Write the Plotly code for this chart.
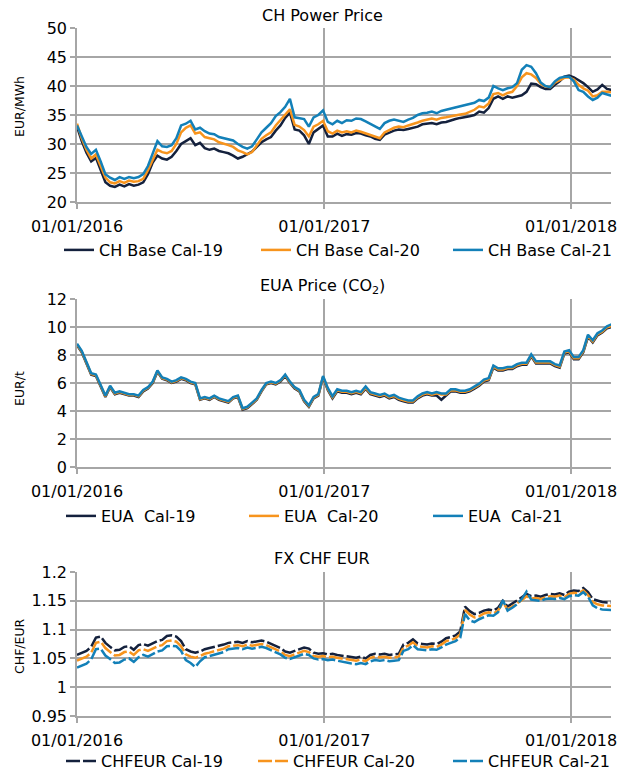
import pandas as pd
import plotly.graph_objects as go

# ---------------- data (weekly readings) ----------------
dates = pd.date_range("2016-01-01", periods=114, freq="7D")

x_ticks = ["2016-01-01", "2017-01-01", "2018-01-01"]

power_names = ["CH Base Cal-19", "CH Base Cal-20", "CH Base Cal-21"]
power_cal19 = [33.0, 30.5, 28.5, 27.0, 27.6, 25.6, 23.4, 22.8, 22.6, 23.0,
               22.7, 23.1, 22.8, 23.0, 23.4, 24.8, 26.8, 28.0, 27.5, 27.3,
               27.8, 28.8, 30.0, 30.5, 31.0, 29.8, 30.2, 29.3, 29.0, 29.2,
               28.8, 28.6, 28.4, 28.0, 27.5, 27.8, 28.2, 28.7, 29.5, 30.3,
               30.8, 31.2, 32.3, 33.2, 34.5, 35.4, 32.5, 32.3, 31.5, 30.0,
               32.0, 32.6, 33.2, 31.3, 31.3, 31.8, 31.4, 31.7, 31.6, 31.9,
               31.8, 31.5, 31.3, 30.9, 30.7, 31.6, 32.0, 32.3, 32.5, 32.4,
               32.6, 32.8, 33.0, 33.4, 33.5, 33.6, 33.4, 33.7, 33.8, 34.1,
               34.3, 34.5, 34.6, 34.8, 35.0, 35.6, 35.4, 36.2, 37.8, 38.2,
               37.8, 38.2, 38.0, 38.2, 38.4, 39.0, 40.4, 40.3, 39.8, 39.5,
               39.5, 40.2, 40.8, 41.6, 41.8, 41.5, 41.0, 40.5, 39.8, 39.0,
               39.4, 40.2, 39.5, 39.3]
power_cal20 = [33.5, 31.0, 29.0, 27.5, 28.2, 26.2, 24.2, 23.4, 23.2, 23.6,
               23.3, 23.7, 23.5, 23.6, 24.0, 25.5, 27.4, 29.0, 28.6, 28.4,
               28.8, 30.0, 32.0, 32.8, 33.2, 31.8, 32.0, 31.2, 31.0, 30.8,
               30.3, 30.1, 29.8, 29.5, 28.9, 28.6, 28.2, 28.6, 29.8, 30.9,
               31.5, 32.0, 33.2, 34.2, 35.2, 36.0, 33.3, 33.0, 32.4, 31.3,
               33.0, 33.4, 34.0, 32.2, 31.8, 32.3, 32.0, 32.2, 32.0, 32.3,
               32.1, 31.8, 31.5, 31.2, 31.0, 32.0, 32.4, 32.8, 33.0, 32.9,
               33.2, 33.4, 33.7, 34.0, 34.2, 34.4, 34.2, 34.5, 34.6, 34.8,
               35.0, 35.1, 35.2, 35.5, 35.9, 36.5, 36.3, 37.0, 38.6, 38.8,
               38.4, 38.8, 39.0, 40.0, 41.5, 42.2, 42.0, 41.4, 40.4, 39.9,
               39.8, 40.6, 41.0, 41.4, 41.5, 41.1, 40.2, 39.6, 39.2, 38.2,
               38.4, 39.0, 39.0, 38.9]
power_cal21 = [33.2, 31.3, 29.5, 28.3, 29.0, 27.0, 24.8, 24.2, 23.8, 24.3,
               24.0, 24.3, 24.1, 24.3, 24.8, 26.2, 28.5, 30.5, 29.6, 29.5,
               29.8, 31.0, 33.2, 33.5, 34.0, 32.5, 32.8, 32.2, 31.8, 31.7,
               31.2, 31.0, 30.9, 30.6, 30.0, 29.5, 29.2, 29.6, 30.8, 32.0,
               32.8, 33.6, 34.8, 35.5, 36.4, 37.8, 34.6, 34.5, 34.3, 33.0,
               34.6, 35.0, 35.8, 33.8, 33.4, 34.0, 33.6, 34.1, 34.0, 34.4,
               34.3, 33.9, 33.5, 33.0, 32.6, 33.6, 34.0, 34.2, 34.0, 33.8,
               34.2, 34.5, 35.0, 35.3, 35.4, 35.6, 35.3, 35.7, 35.9, 36.1,
               36.3, 36.5, 36.6, 36.9, 37.1, 37.6, 37.4, 38.0, 40.0, 39.6,
               39.3, 39.6, 39.8, 40.5, 42.8, 43.6, 43.3, 42.2, 40.6, 40.0,
               39.8, 40.8, 41.4, 41.6, 41.6, 40.8, 39.3, 39.0, 38.2, 37.6,
               38.0, 38.8, 38.5, 38.3]

eua_names = ["EUA  Cal-19", "EUA  Cal-20", "EUA  Cal-21"]
eua_cal19 = [8.7, 8.2, 7.4, 6.6, 6.5, 5.8, 5.0, 5.7, 5.2, 5.3,
             5.2, 5.1, 5.1, 5.0, 5.4, 5.6, 6.0, 6.8, 6.3, 6.2,
             6.0, 6.1, 6.3, 6.2, 6.0, 5.9, 4.8, 4.9, 4.8, 5.0,
             4.8, 4.7, 4.6, 4.9, 5.0, 4.1, 4.2, 4.5, 4.8, 5.4,
             5.9, 6.0, 5.9, 6.1, 6.5, 6.0, 5.6, 5.4, 4.7, 4.3,
             4.9, 5.1, 6.4, 5.5, 4.9, 5.4, 5.3, 5.3, 5.2, 5.3,
             5.2, 5.6, 5.2, 5.1, 5.0, 5.1, 4.9, 5.0, 4.8, 4.7,
             4.6, 4.6, 4.9, 5.1, 5.2, 5.1, 5.1, 4.8, 5.1, 5.4,
             5.4, 5.3, 5.3, 5.4, 5.6, 5.8, 6.1, 6.2, 7.1, 6.9,
             6.9, 7.0, 7.0, 7.2, 7.3, 7.3, 7.9, 7.4, 7.4, 7.4,
             7.4, 7.2, 7.1, 8.1, 8.2, 7.7, 7.7, 8.2, 9.3, 8.9,
             9.4, 9.6, 9.9, 10.0]
eua_cal20 = [8.75, 8.25, 7.45, 6.65, 6.55, 5.85, 5.05, 5.75, 5.25, 5.35,
             5.25, 5.15, 5.15, 5.05, 5.45, 5.65, 6.05, 6.85, 6.35, 6.25,
             6.05, 6.15, 6.35, 6.25, 6.05, 5.95, 4.85, 4.95, 4.85, 5.05,
             4.85, 4.75, 4.65, 4.95, 5.05, 4.15, 4.25, 4.55, 4.85, 5.45,
             5.95, 6.05, 5.95, 6.15, 6.55, 6.05, 5.65, 5.45, 4.75, 4.35,
             4.95, 5.15, 6.45, 5.57, 4.97, 5.47, 5.37, 5.37, 5.27, 5.37,
             5.27, 5.67, 5.27, 5.17, 5.07, 5.17, 4.97, 5.07, 4.87, 4.77,
             4.67, 4.67, 4.97, 5.17, 5.27, 5.17, 5.27, 5.17, 5.17, 5.47,
             5.47, 5.37, 5.37, 5.47, 5.67, 5.87, 6.17, 6.27, 7.17, 6.97,
             6.97, 7.07, 7.07, 7.27, 7.37, 7.37, 7.97, 7.47, 7.47, 7.47,
             7.47, 7.27, 7.17, 8.17, 8.27, 7.77, 7.77, 8.27, 9.37, 8.97,
             9.47, 9.67, 9.97, 10.07]
eua_cal21 = [8.8, 8.3, 7.5, 6.7, 6.6, 5.9, 5.1, 5.8, 5.3, 5.4,
             5.3, 5.2, 5.2, 5.1, 5.5, 5.7, 6.1, 6.9, 6.4, 6.3,
             6.1, 6.2, 6.4, 6.3, 6.1, 6.0, 4.9, 5.0, 4.9, 5.1,
             4.9, 4.8, 4.7, 5.0, 5.1, 4.2, 4.3, 4.6, 4.9, 5.5,
             6.0, 6.1, 6.0, 6.2, 6.6, 6.1, 5.7, 5.5, 4.8, 4.4,
             5.0, 5.2, 6.5, 5.65, 5.05, 5.55, 5.45, 5.45, 5.35, 5.45,
             5.35, 5.75, 5.35, 5.25, 5.15, 5.25, 5.05, 5.15, 4.95, 4.85,
             4.75, 4.75, 5.05, 5.25, 5.35, 5.25, 5.35, 5.25, 5.25, 5.55,
             5.55, 5.45, 5.45, 5.55, 5.75, 5.95, 6.25, 6.35, 7.25, 7.05,
             7.05, 7.15, 7.15, 7.35, 7.45, 7.45, 8.05, 7.55, 7.55, 7.55,
             7.55, 7.35, 7.25, 8.25, 8.35, 7.85, 7.85, 8.35, 9.45, 9.05,
             9.55, 9.75, 10.05, 10.2]

fx_names = ["CHFEUR Cal-19", "CHFEUR Cal-20", "CHFEUR Cal-21"]
fx_cal19 = [1.056, 1.060, 1.063, 1.070, 1.086, 1.088, 1.077, 1.070, 1.064, 1.065,
            1.070, 1.071, 1.065, 1.073, 1.075, 1.072, 1.076, 1.080, 1.082, 1.089,
            1.090, 1.088, 1.080, 1.066, 1.062, 1.060, 1.062, 1.066, 1.068, 1.070,
            1.071, 1.074, 1.077, 1.078, 1.079, 1.077, 1.080, 1.078, 1.080, 1.081,
            1.079, 1.075, 1.072, 1.068, 1.062, 1.060, 1.063, 1.066, 1.069, 1.067,
            1.060, 1.058, 1.059, 1.057, 1.058, 1.056, 1.055, 1.053, 1.052, 1.051,
            1.053, 1.050, 1.056, 1.058, 1.057, 1.058, 1.056, 1.057, 1.058, 1.074,
            1.077, 1.083, 1.076, 1.075, 1.074, 1.076, 1.075, 1.079, 1.085, 1.087,
            1.090, 1.097, 1.140, 1.132, 1.127, 1.129, 1.133, 1.135, 1.133, 1.138,
            1.150, 1.140, 1.145, 1.150, 1.156, 1.162, 1.158, 1.159, 1.157, 1.160,
            1.162, 1.161, 1.163, 1.160, 1.166, 1.168, 1.167, 1.172, 1.165, 1.153,
            1.150, 1.148, 1.147, 1.147]
fx_cal20 = [1.046, 1.050, 1.053, 1.060, 1.077, 1.079, 1.068, 1.061, 1.055, 1.056,
            1.061, 1.062, 1.056, 1.064, 1.066, 1.063, 1.067, 1.071, 1.073, 1.080,
            1.081, 1.079, 1.071, 1.057, 1.053, 1.051, 1.054, 1.058, 1.060, 1.062,
            1.064, 1.067, 1.071, 1.072, 1.073, 1.071, 1.074, 1.072, 1.074, 1.075,
            1.073, 1.069, 1.066, 1.062, 1.056, 1.054, 1.057, 1.060, 1.063, 1.061,
            1.054, 1.053, 1.054, 1.052, 1.053, 1.051, 1.050, 1.048, 1.047, 1.046,
            1.048, 1.045, 1.051, 1.053, 1.052, 1.053, 1.051, 1.052, 1.053, 1.069,
            1.072, 1.078, 1.071, 1.070, 1.069, 1.071, 1.070, 1.074, 1.080, 1.082,
            1.085, 1.092, 1.134, 1.126, 1.121, 1.123, 1.128, 1.130, 1.128, 1.133,
            1.147, 1.135, 1.140, 1.145, 1.151, 1.158, 1.154, 1.155, 1.153, 1.156,
            1.158, 1.157, 1.159, 1.156, 1.162, 1.164, 1.163, 1.168, 1.160, 1.148,
            1.144, 1.142, 1.141, 1.141]
fx_cal21 = [1.034, 1.038, 1.041, 1.048, 1.066, 1.067, 1.055, 1.049, 1.042, 1.043,
            1.048, 1.050, 1.044, 1.052, 1.056, 1.053, 1.058, 1.062, 1.064, 1.071,
            1.072, 1.071, 1.063, 1.047, 1.042, 1.035, 1.045, 1.052, 1.054, 1.056,
            1.058, 1.061, 1.066, 1.067, 1.068, 1.066, 1.069, 1.067, 1.069, 1.070,
            1.068, 1.064, 1.061, 1.057, 1.051, 1.049, 1.052, 1.055, 1.058, 1.056,
            1.050, 1.048, 1.049, 1.047, 1.048, 1.046, 1.044, 1.042, 1.041, 1.040,
            1.042, 1.040, 1.045, 1.047, 1.046, 1.047, 1.045, 1.046, 1.047, 1.063,
            1.066, 1.073, 1.066, 1.065, 1.064, 1.066, 1.065, 1.069, 1.074, 1.077,
            1.080, 1.086, 1.127, 1.116, 1.113, 1.118, 1.122, 1.125, 1.124, 1.130,
            1.151, 1.133, 1.138, 1.144, 1.153, 1.166, 1.152, 1.151, 1.150, 1.153,
            1.154, 1.153, 1.155, 1.153, 1.158, 1.160, 1.159, 1.165, 1.157, 1.142,
            1.137, 1.135, 1.134, 1.134]

# ---------------- styling ----------------
W, H = 620, 773
PL, PR = 77, 611          # plot area left/right edges (px)
FONT = "DejaVu Sans"
GRID = "#A6A6A6"
COLORS = ["#14213D", "#F7941D", "#1380B8"]


def fy(py):
    return 1 - py / H


def fx(px):
    return px / W


panels = [
    dict(series=[power_cal19, power_cal20, power_cal21], names=power_names,
         top=28, bottom=202, yr=[20, 50], dtick=5, title="CH Power Price",
         ytitle="EUR/MWh", ytitle_y=107, title_y=15, dash="solid",
         legend_y=250, legend_x=[104, 301, 493]),
    dict(series=[eua_cal19, eua_cal20, eua_cal21], names=eua_names,
         top=299, bottom=467, yr=[0, 12], dtick=2, title="EUA Price (CO<sub>2</sub>)",
         ytitle="EUR/t", ytitle_y=389, title_y=286, dash="solid",
         legend_y=516, legend_x=[106, 289, 473]),
    dict(series=[fx_cal19, fx_cal20, fx_cal21], names=fx_names,
         top=572, bottom=716, yr=[0.95, 1.2], dtick=0.05, title="FX CHF EUR",
         ytitle="CHF/EUR", ytitle_y=646, title_y=558, dash="14px,3px",
         legend_y=761, legend_x=[106, 298, 493]),
]

fig = go.Figure()
layout = dict(
    width=W, height=H,
    margin=dict(l=0, r=0, t=0, b=0, autoexpand=False),
    paper_bgcolor="white", plot_bgcolor="white",
    font=dict(family=FONT, color="#000000"),
    showlegend=True,
    annotations=[],
)

TEXT_OFFSET = 45  # px from legend box left to legend text start

for k, p in enumerate(panels, start=1):
    sfx = "" if k == 1 else str(k)
    for j, (vals, name, col) in enumerate(zip(p["series"], p["names"], COLORS)):
        n = (k - 1) * 3 + j + 1
        leg = "legend" if n == 1 else f"legend{n}"
        fig.add_trace(go.Scatter(
            x=dates, y=vals, name=name, mode="lines",
            line=dict(color=col, width=2.5, dash=p["dash"]),
            xaxis=f"x{sfx}", yaxis=f"y{sfx}", legend=leg, showlegend=True,
        ))
        layout[leg] = dict(
            orientation="h", x=fx(p["legend_x"][j] - TEXT_OFFSET), xanchor="left",
            y=fy(p["legend_y"]), yanchor="middle",
            font=dict(size=16, family=FONT), bgcolor="rgba(0,0,0,0)",
            itemwidth=30, visible=True,
        )
    layout[f"xaxis{sfx}"] = dict(
        type="date", range=["2016-01-01", "2018-03-01"],
        tickvals=x_ticks, tickformat="%d/%m/%Y",
        showgrid=True, gridcolor=GRID, gridwidth=1.5,
        showline=True, linecolor=GRID, linewidth=1.5,
        ticks="outside", ticklen=5, tickcolor=GRID, tickwidth=1.5,
        tickfont=dict(size=16, family=FONT), ticklabelstandoff=4,
        anchor=f"y{sfx}", domain=[fx(PL), fx(PR)], zeroline=False,
        automargin=False,
    )
    layout[f"yaxis{sfx}"] = dict(
        range=p["yr"], dtick=p["dtick"], tick0=p["yr"][0],
        showgrid=True, gridcolor=GRID, gridwidth=1.5,
        showline=True, linecolor=GRID, linewidth=1.5,
        ticks="outside", ticklen=5, tickcolor=GRID, tickwidth=1.5,
        tickfont=dict(size=16, family=FONT), zeroline=False,
        anchor=f"x{sfx}", domain=[fy(p["bottom"]), fy(p["top"])],
        automargin=False,
    )
    layout["annotations"].append(dict(
        text=p["title"], xref="paper", yref="paper",
        x=fx(322), y=fy(p["title_y"]), xanchor="center", yanchor="middle",
        showarrow=False, font=dict(size=16, family=FONT),
    ))
    layout["annotations"].append(dict(
        text=p["ytitle"], xref="paper", yref="paper",
        x=fx(19), y=fy(p["ytitle_y"]), xanchor="center", yanchor="middle",
        textangle=-90, showarrow=False, font=dict(size=12.5, family=FONT),
    ))

fig.update_layout(**layout)
fig.write_html("out.html", config={"displayModeBar": False},
               post_script="document.body.style.margin='0px';")
